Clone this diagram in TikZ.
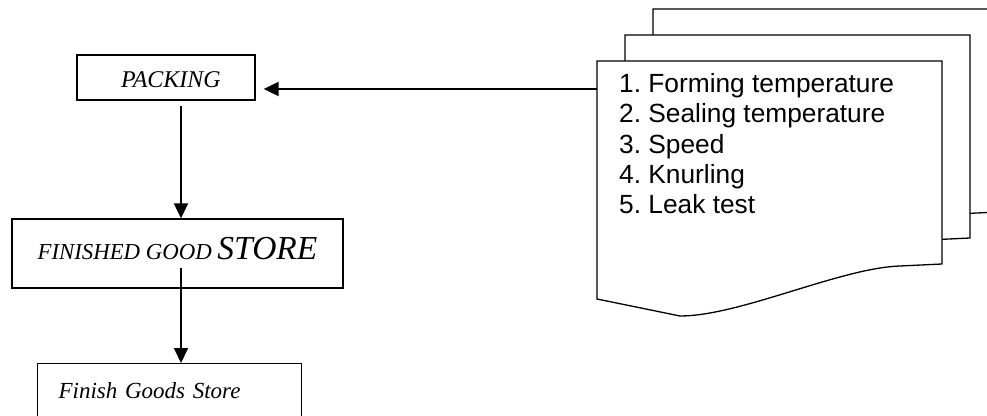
\documentclass[tikz,border=0pt]{standalone}
\usepackage{fontspec}
\setmainfont{Liberation Serif}
\newfontfamily\arialfont{Liberation Sans}
\usetikzlibrary{positioning}
\usetikzlibrary{calc}
\usetikzlibrary{arrows.meta}
\frenchspacing

\begin{document}
\begin{tikzpicture}[x=1pt, y=1pt, >={Triangle[length=15pt,width=14pt]},
    procbox/.style={rectangle, draw, line width=1.3pt, inner sep=0pt, font=\itshape\fontsize{23}{26}\selectfont},
    flow/.style={->, line width=2pt},
    sheet/.style={draw, fill=white, line width=1.3pt},
    param/.style={anchor=base west, inner sep=0pt, font=\arialfont\fontsize{26.3}{30}\selectfont}]

    \useasboundingbox (0,0) rectangle (987,415);
    \clip (0,0) rectangle (987,415);

    % Process boxes (left)
    \node[procbox, minimum width=178pt, minimum height=45pt, text height=21pt, text depth=0pt,
        font=\itshape\fontsize{24}{26}\selectfont] (packing) at (166,337.5) {\hspace*{10pt}PACKING};
    \node[procbox, minimum width=331pt, minimum height=69pt, text height=25pt, text depth=12pt] (fgs) at (177.5,161.5)
        {{\fontsize{22.8}{25}\selectfont FINISHED GOOD} {\fontsize{33.5}{36}\selectfont STORE}};
    \node[procbox, anchor=north west, text width=222pt, inner xsep=21pt, text height=35pt, text depth=30pt] (fgd) at (37,52) {Finish Goods Store};

    % Flow arrows
    \coordinate (col) at (181,0);
    \draw[flow] ($(packing.south -| col)+(0,-5)$) -- (fgs.north -| col);
    \draw[flow] ($(fgs.south -| col)+(0,21)$) -- (fgd.north -| col);

    % Document stack (right)
    \foreach \dx/\dy in {56/52, 28/26, 0/0}
        \draw[sheet, shift={(\dx,\dy)}] (597,354) -- (942,354) -- (942,151) -- (900,149)
            .. controls (840,147) and (740,99) .. (680,99) -- (597,116) -- cycle;

    % Parameter list
    \foreach \txt [count=\i] in {Forming temperature, Sealing temperature, Speed, Knurling, Leak test}
        \node[param] (par\i) at (619, {322.5-30.3*(\i-1)}) {\i. \txt};

    \coordinate (docin) at (597,326);
    \draw[flow, shorten >=8pt] (docin) -- (docin -| packing.east);
\end{tikzpicture}
\end{document}
